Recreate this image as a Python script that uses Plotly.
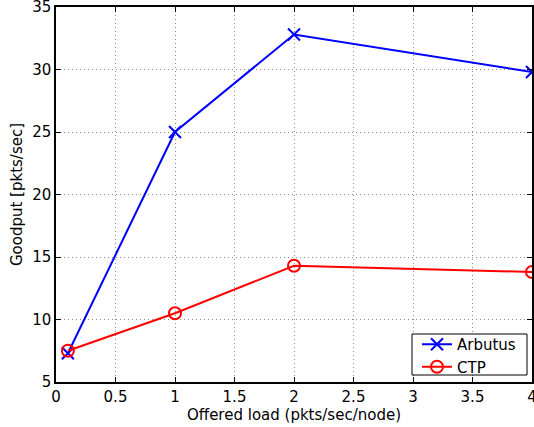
import plotly.graph_objects as go

# Offered load values (pkts/sec/node)
load = [0.1, 1, 2, 4]

# Goodput per protocol (pkts/sec)
arbutus_goodput = [7.3, 25.0, 32.8, 29.8]
ctp_goodput = [7.5, 10.5, 14.3, 13.8]

x_ticks = [0, 0.5, 1, 1.5, 2, 2.5, 3, 3.5, 4]
y_ticks = [5, 10, 15, 20, 25, 30, 35]

FONT = "DejaVu Sans, Liberation Sans, Arial, sans-serif"

fig = go.Figure()
fig.add_trace(go.Scatter(
    x=load, y=arbutus_goodput, name="Arbutus", mode="lines+markers",
    line=dict(color="#0000ff", width=2),
    marker=dict(symbol="x-thin", size=12, line=dict(color="#0000ff", width=2)),
))
fig.add_trace(go.Scatter(
    x=load, y=ctp_goodput, name="CTP", mode="lines+markers",
    line=dict(color="#ff0000", width=2),
    marker=dict(symbol="circle-open", size=12, color="#ff0000", line=dict(width=2)),
))

axis_common = dict(
    showline=True, linecolor="black", linewidth=1.5, mirror="ticks",
    ticks="inside", ticklen=5, tickcolor="black", tickwidth=1,
    showgrid=True, gridcolor="#8c8c8c", griddash="1px,3px", gridwidth=1,
    zeroline=False, ticklabeloverflow="allow", automargin=False,
    tickfont=dict(family=FONT, size=15, color="black"),
)

fig.update_xaxes(
    range=[0, 4], tickvals=x_ticks, ticktext=[f"{v:g}" for v in x_ticks],
    title=dict(text="Offered load (pkts/sec/node)", standoff=4,
               font=dict(family=FONT, size=15, color="black")),
    **axis_common,
)
fig.update_yaxes(
    range=[5, 35], tickvals=y_ticks,
    title=dict(text="Goodput [pkts/sec]", standoff=6,
               font=dict(family=FONT, size=15, color="black")),
    **axis_common,
)

# Legend frame drawn as a rectangle around the borderless legend
fig.add_shape(
    type="rect", xref="paper", yref="paper",
    x0=(412 - 56) / 476, x1=(527 - 56) / 476,
    y0=(382 - 375) / 375, y1=(382 - 334) / 375,
    line=dict(color="black", width=1), fillcolor="white", layer="above",
)

fig.update_layout(
    width=534, height=427,
    margin=dict(l=56, r=2, t=7, b=45),
    paper_bgcolor="white", plot_bgcolor="white",
    legend=dict(
        x=(417 - 56) / 476, y=(382 - 328) / 375, xanchor="left", yanchor="top",
        bgcolor="rgba(0,0,0,0)", borderwidth=0,
        font=dict(family=FONT, size=15, color="black"),
        tracegroupgap=0,
    ),
)

fig.write_html("out.html")
